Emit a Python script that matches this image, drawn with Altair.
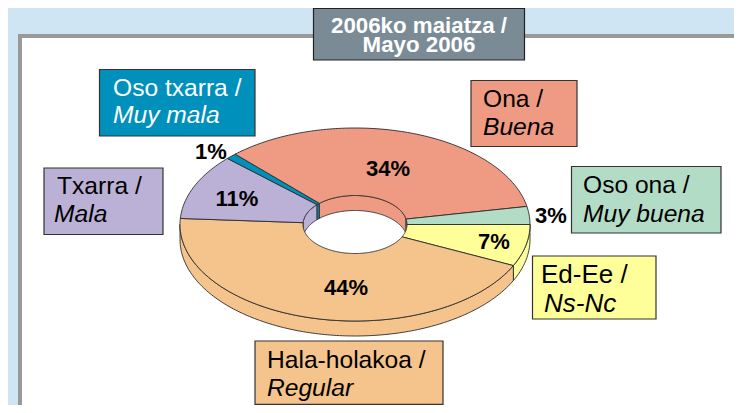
import math
import altair as alt

# ---- chart values ----
names = ["Ed-Ee", "Hala-holakoa", "Txarra", "Oso txarra", "Ona", "Oso ona"]
values = [7, 44, 11, 1, 34, 3]
colors = ["#FFFF99", "#F4C48C", "#BBB0D6", "#0090BC", "#EF9B84", "#B3DCC6"]
pct_labels = ["7%", "44%", "11%", "1%", "34%", "3%"]

FONT = "Liberation Sans"
OX, OY = -8, -8  # page margin offset


def X(v):
    return v + OX


def Y(v):
    return v + OY


# ellipse geometry of the tilted ring
RX, RY, HRX, HRY, DEPTH = 175, 96.5, 52, 29, 15
CX, CY = X(355), Y(224.5)


def arc(rx, ry, a0, a1, dy=0):
    n = max(2, int(abs(a1 - a0)) + 2)
    return [
        [rx * math.cos(math.radians(a0 + (a1 - a0) * i / (n - 1))),
         ry * math.sin(math.radians(a0 + (a1 - a0) * i / (n - 1))) + dy]
        for i in range(n)
    ]


def feature(ring, color):
    ring = ring + [ring[0]]
    return {"type": "Feature", "properties": {"color": color},
            "geometry": {"type": "Polygon", "coordinates": [ring]}}


top, outer_wall, inner_wall = [], [], []
start = 0.0
for v, c in zip(values, colors):
    end = start + v * 3.6
    top.append(feature(arc(RX, RY, start, end) + arc(HRX, HRY, end, start), c))
    a0, a1 = max(start, 0), min(end, 180)
    if a1 > a0:
        outer_wall.append(feature(arc(RX, RY, a0, a1) + arc(RX, RY, a1, a0, DEPTH), c))
    a0, a1 = max(start, 180), min(end, 360)
    if a1 > a0:
        inner_wall.append(feature(arc(HRX, HRY, a0, a1) + arc(HRX, HRY, a1, a0, DEPTH), c))
    start = end


def shapes(features):
    return (
        alt.Chart(alt.Data(values=features))
        .mark_geoshape(stroke="#2b2b2b", strokeWidth=0.9, strokeJoin="round")
        .encode(color=alt.Color("properties.color:N", scale=None, legend=None))
        .project(type="identity", scale=1, translate=[CX, CY])
    )


ONE = alt.Data(values=[{"a": 1}])


def box(x0, y0, x1, y1, fill, stroke="#333333", sw=1.2):
    return alt.Chart(ONE).mark_rect(fill=fill, stroke=stroke, strokeWidth=sw).encode(
        x=alt.value(X(x0)), x2=alt.value(X(x1)), y=alt.value(Y(y0)), y2=alt.value(Y(y1))
    )


def text(s, x, y, size=24.6, color="#000000", style="normal", weight="normal",
         align="left", baseline="alphabetic"):
    return alt.Chart(ONE).mark_text(
        text=s, font=FONT, fontSize=size, fill=color, fontStyle=style, fontWeight=weight,
        align=align, baseline=baseline,
    ).encode(x=alt.value(X(x)), y=alt.value(Y(y)))


def pct(i, x, y):
    return text(pct_labels[i], x, y, size=22, weight="bold", align="center", baseline="middle")


layers = [
    box(20, 36, 800, 460, "#FFFFFF", stroke="#999999", sw=4),
    box(313.5, 8.5, 524.5, 60, "#7A8B96", stroke="#222222", sw=1.2),
    text("2006ko maiatza /", 419, 33, size=22.3, color="#FFFFFF", weight="bold", align="center"),
    text("Mayo 2006", 419, 52, size=22.3, color="#FFFFFF", weight="bold", align="center"),
    shapes(outer_wall),
    shapes(inner_wall),
    shapes(top),
    box(99.5, 69.5, 255, 136, colors[3]),
    text("Oso txarra /", 113, 96, color="#FFFFFF"),
    text("Muy mala", 113, 123, color="#FFFFFF", style="italic"),
    box(471, 80.5, 577, 146.5, colors[4]),
    text("Ona /", 483, 107),
    text("Buena", 483, 135, style="italic"),
    box(571.5, 166.5, 721, 233, colors[5]),
    text("Oso ona /", 583, 193),
    text("Muy buena", 583, 222, style="italic"),
    box(532.5, 256, 656, 319, colors[0]),
    text("Ed-Ee /", 541, 283, size=26),
    text("Ns-Nc", 544, 312, size=26, style="italic"),
    box(44, 168, 163, 234.5, colors[2]),
    text("Txarra /", 57, 194),
    text("Mala", 54, 222, style="italic"),
    box(255, 341, 443, 404.4, colors[1]),
    text("Hala-holakoa /", 267, 368),
    text("Regular", 267, 396, style="italic"),
    pct(4, 388, 169),
    pct(2, 237, 199),
    pct(1, 346, 288),
    pct(0, 494, 242),
    pct(5, 551, 216),
    pct(3, 211, 152),
]

chart = (
    alt.layer(*layers)
    .properties(width=726, height=397, padding=0, background="#D0E5F4",
                autosize=alt.AutoSizeParams(type="none"))
    .configure_view(stroke=None)
)

chart.save("out.html", embed_options={"renderer": "svg", "actions": False})
